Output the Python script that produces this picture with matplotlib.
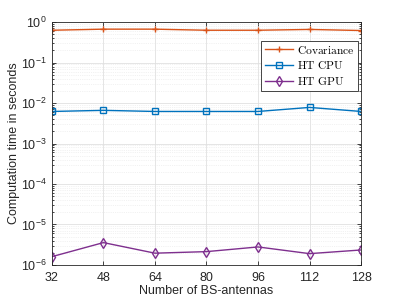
import matplotlib
matplotlib.use("Agg")
import matplotlib.pyplot as plt
from matplotlib.ticker import LogLocator, NullFormatter

antennas = [32, 48, 64, 80, 96, 112, 128]
covariance = [0.63, 0.67, 0.67, 0.63, 0.63, 0.66, 0.62]
ht_cpu = [0.0062, 0.0066, 0.0062, 0.0062, 0.0062, 0.0078, 0.0062]
ht_gpu = [1.6e-6, 3.56e-6, 1.95e-6, 2.13e-6, 2.78e-6, 1.9e-6, 2.34e-6]
labels = ["Covariance", "HT CPU", "HT GPU"]

plt.rcParams['font.family'] = ['Liberation Sans', 'DejaVu Sans']
plt.rcParams['mathtext.fontset'] = 'cm'

fig = plt.figure(figsize=(3.99, 2.99), dpi=100)
ax = fig.add_axes([0.130, 0.114, 0.775, 0.812])

def mt(s):
    return r'$\mathrm{' + s.replace(' ', r'\ ') + '}$'

ax.plot(antennas, covariance, color='#D95319', marker='+', markersize=5, lw=1.0,
        label=mt(labels[0]))
ax.plot(antennas, ht_cpu, color='#0072BD', marker='s', markersize=4.5, lw=1.0,
        markerfacecolor='none', mew=1.0, label=mt(labels[1]))
ax.plot(antennas, ht_gpu, color='#7E2F8E', marker='d', markersize=5.5, lw=1.0,
        markerfacecolor='none', mew=1.0, label=mt(labels[2]))

ax.set_yscale('log')
ax.set_ylim(1e-6, 1)
ax.set_xlim(32, 128)
ax.set_xticks(antennas)
ax.yaxis.set_major_locator(LogLocator(base=10, numticks=10))
ax.yaxis.set_minor_locator(LogLocator(base=10, subs=range(2, 10), numticks=100))
ax.yaxis.set_minor_formatter(NullFormatter())

ax.grid(True, which='major', color='#e0e0e0', lw=0.6)
ax.grid(True, which='minor', axis='y', color='#e6e6e6', lw=0.5, ls=':')
ax.set_axisbelow(True)

ax.tick_params(which='both', direction='in', top=True, right=True, labelsize=9,
               colors='#262626', width=0.6)
ax.tick_params(which='major', length=3)
ax.tick_params(which='minor', length=1.5)
ax.tick_params(axis='x', pad=5)
for s in ax.spines.values():
    s.set_color('#262626')
    s.set_linewidth(0.6)

ax.set_xlabel('Number of BS-antennas', fontsize=9, color='#262626', labelpad=1)
ax.set_ylabel('Computation time in seconds', fontsize=9, color='#262626', labelpad=1)

leg = ax.legend(loc='upper right', bbox_to_anchor=(0.99, 0.922), fontsize=8.3,
                fancybox=False, edgecolor='#262626', framealpha=1, borderaxespad=0,
                handlelength=2.5, borderpad=0.3, labelspacing=0.32, handletextpad=0.3,
                markerscale=0.85)
leg.get_frame().set_linewidth(0.6)

fig.savefig('out.png', dpi=100)
